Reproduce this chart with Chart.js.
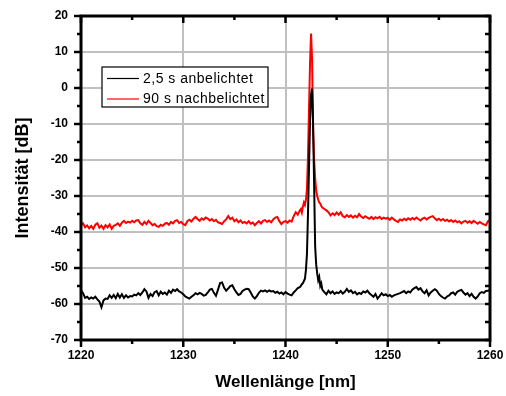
<!DOCTYPE html>
<html><head><meta charset="utf-8">
<script src="https://cdn.jsdelivr.net/npm/chart.js@4.4.1/dist/chart.umd.min.js"></script>
<style>html,body{margin:0;padding:0;background:#fff;}canvas{display:block;}</style>
</head><body>
<canvas id="c" width="506" height="396"></canvas>
<script>
const wavelengths = [
1220.0,1220.2,1220.4,1220.6,1220.8,1221.0,1221.2,1221.4,1221.6,1221.8,
1222.0,1222.2,1222.4,1222.6,1222.8,1223.0,1223.2,1223.4,1223.6,1223.8,
1224.0,1224.2,1224.4,1224.6,1224.8,1225.0,1225.2,1225.4,1225.6,1225.8,
1226.0,1226.2,1226.4,1226.6,1226.8,1227.0,1227.2,1227.4,1227.6,1227.8,
1228.0,1228.2,1228.4,1228.6,1228.8,1229.0,1229.2,1229.4,1229.6,1229.8,
1230.0,1230.2,1230.4,1230.6,1230.8,1231.0,1231.2,1231.4,1231.6,1231.8,
1232.0,1232.2,1232.4,1232.6,1232.8,1233.0,1233.2,1233.4,1233.6,1233.8,
1234.0,1234.2,1234.4,1234.6,1234.8,1235.0,1235.2,1235.4,1235.6,1235.8,
1236.0,1236.2,1236.4,1236.6,1236.8,1237.0,1237.2,1237.4,1237.6,1237.8,
1238.0,1238.2,1238.4,1238.6,1238.8,1239.0,1239.2,1239.4,1239.6,1239.8,
1240.0,1240.2,1240.4,1240.6,1240.8,1241.0,1241.2,1241.4,
1241.5,1241.6,1241.7,1241.8,1241.9,1242.0,1242.1,1242.2,1242.3,1242.4,
1242.5,1242.6,1242.7,1242.8,1242.9,1243.0,1243.1,1243.2,1243.3,1243.4,
1243.5,1243.6,
1243.8,
1244.0,1244.2,1244.4,1244.6,1244.8,1245.0,1245.2,1245.4,1245.6,1245.8,
1246.0,1246.2,1246.4,1246.6,1246.8,1247.0,1247.2,1247.4,1247.6,1247.8,
1248.0,1248.2,1248.4,1248.6,1248.8,1249.0,1249.2,1249.4,1249.6,1249.8,
1250.0,1250.2,1250.4,1250.6,1250.8,1251.0,1251.2,1251.4,1251.6,1251.8,
1252.0,1252.2,1252.4,1252.6,1252.8,1253.0,1253.2,1253.4,1253.6,1253.8,
1254.0,1254.2,1254.4,1254.6,1254.8,1255.0,1255.2,1255.4,1255.6,1255.8,
1256.0,1256.2,1256.4,1256.6,1256.8,1257.0,1257.2,1257.4,1257.6,1257.8,
1258.0,1258.2,1258.4,1258.6,1258.8,1259.0,1259.2,1259.4,1259.6,1259.8,
1260.0
];
const anbelichtet = [
-56.2,-57.0,-58.3,-58.0,-58.6,-58.2,-58.5,-58.0,-58.7,-59.3,
-60.9,-59.0,-58.5,-58.6,-57.6,-58.3,-57.5,-58.4,-57.2,-58.2,
-57.3,-58.3,-57.6,-58.2,-57.8,-57.9,-57.4,-57.6,-57.0,-57.5,
-56.8,-55.9,-56.5,-58.3,-57.2,-57.8,-56.7,-56.4,-57.6,-56.6,
-57.2,-56.8,-57.4,-56.3,-56.9,-56.0,-56.4,-55.9,-56.5,-56.8,
-57.3,-57.9,-58.2,-58.5,-58.0,-57.6,-57.0,-57.3,-56.9,-57.2,
-57.7,-57.5,-56.8,-56.0,-55.8,-56.9,-57.7,-56.0,-54.2,-54.0,
-55.5,-56.3,-55.7,-55.0,-54.8,-55.9,-56.8,-57.5,-57.2,-56.4,
-56.0,-55.8,-55.9,-56.8,-57.9,-58.5,-57.8,-56.9,-56.3,-56.5,
-56.2,-56.6,-56.2,-56.5,-56.4,-56.9,-56.6,-57.1,-56.8,-57.3,
-56.7,-57.1,-57.4,-57.6,-56.8,-56.2,-55.6,-55.3,
-55.0,-54.5,-54.2,-53.6,-53.0,-50.5,-46.0,-35.0,-22.0,-9.0,
-2.0,-0.2,-10.0,-27.0,-44.0,-49.0,-51.5,-53.4,-52.5,-55.0,
-54.3,-56.0,
-56.7,
-57.3,-56.3,-57.0,-56.5,-57.2,-56.8,-57.0,-56.4,-57.1,-56.6,
-55.8,-56.6,-56.2,-57.0,-56.6,-57.3,-56.9,-57.2,-56.5,-56.8,
-56.3,-57.0,-57.5,-58.0,-57.2,-58.5,-57.8,-57.0,-57.6,-57.3,
-57.8,-57.5,-58.0,-57.6,-57.4,-57.2,-57.0,-56.7,-56.4,-57.0,
-56.5,-56.8,-56.0,-55.6,-55.3,-56.0,-55.6,-56.5,-57.0,-56.2,
-57.6,-56.8,-56.3,-55.9,-56.3,-57.2,-57.8,-58.2,-58.5,-57.9,
-57.6,-57.0,-56.8,-57.4,-56.6,-56.3,-56.1,-56.8,-57.4,-57.0,
-57.8,-57.2,-58.0,-58.5,-57.9,-57.0,-56.7,-56.9,-56.4,-56.3,
-56.2
];
const nachbelichtet = [
-38.1,-37.6,-38.7,-38.2,-39.0,-38.3,-39.1,-38.0,-37.6,-38.8,
-38.2,-39.1,-38.1,-38.7,-37.9,-39.1,-38.3,-38.0,-37.6,-38.3,
-37.4,-36.9,-37.5,-37.1,-37.4,-36.9,-37.3,-36.8,-36.7,-37.6,
-38.0,-37.2,-37.8,-36.9,-37.5,-38.1,-37.8,-38.4,-38.6,-38.0,
-38.3,-37.7,-37.5,-38.0,-37.2,-37.6,-36.9,-36.7,-37.5,-37.2,
-37.8,-38.1,-37.0,-36.6,-37.1,-36.3,-35.8,-36.4,-36.9,-36.2,
-36.6,-36.0,-36.3,-36.8,-36.4,-37.0,-36.6,-37.3,-37.5,-37.8,
-37.0,-36.5,-35.6,-36.4,-36.0,-37.0,-36.5,-37.3,-36.8,-37.5,
-37.2,-37.6,-37.0,-37.7,-37.4,-38.1,-37.5,-37.0,-37.6,-36.9,
-36.7,-37.2,-36.8,-37.3,-36.5,-36.0,-35.8,-37.0,-37.8,-37.2,
-37.0,-37.4,-36.8,-37.1,-35.6,-34.5,-35.2,-34.0,
-33.6,-34.6,-33.0,-31.8,-32.5,-31.0,-28.0,-19.0,-6.0,7.0,
15.1,8.0,-12.0,-20.0,-25.0,-28.5,-30.0,-31.0,-31.8,-32.1,
-32.8,-33.2,
-33.6,
-34.0,-34.5,-35.4,-34.8,-35.3,-34.6,-35.2,-34.5,-35.6,-35.9,
-35.3,-35.8,-35.4,-36.0,-35.5,-35.9,-35.0,-35.7,-36.1,-35.6,
-36.0,-36.3,-35.8,-36.4,-35.9,-36.2,-35.8,-36.4,-36.0,-36.3,
-36.1,-36.6,-36.0,-36.5,-36.9,-37.2,-36.5,-36.8,-36.3,-36.7,
-36.2,-36.6,-36.1,-36.5,-36.0,-36.4,-36.8,-36.3,-36.0,-36.5,
-36.1,-35.8,-35.6,-36.2,-36.7,-36.3,-36.8,-36.4,-36.9,-36.6,
-37.1,-36.7,-37.2,-36.8,-37.3,-37.0,-37.6,-37.1,-36.9,-37.4,
-37.0,-37.5,-36.9,-37.3,-37.7,-37.2,-37.6,-37.9,-38.1,-37.0,
-36.7
];
const seriesLabels = ['2,5 s anbelichtet', '90 s nachbelichtet'];
const xTickValues = [1220, 1230, 1240, 1250, 1260];
const yTickValues = [20, 10, 0, -10, -20, -30, -40, -50, -60, -70];
const xTitle = 'Wellenlänge [nm]';
const yTitle = 'Intensität [dB]';

const FONT = "'Liberation Sans', Arial, sans-serif";

const framePlugin = {
  id: 'frame',
  afterDraw(chart) {
    const {ctx, chartArea: a, scales: {x, y}} = chart;
    ctx.save();
    ctx.strokeStyle = '#000';
    ctx.lineCap = 'butt';
    const seg = (x1, y1, x2, y2) => { ctx.beginPath(); ctx.moveTo(x1, y1); ctx.lineTo(x2, y2); ctx.stroke(); };
    ctx.lineWidth = 2.5;
    for (let v = x.min; v <= x.max + 1e-9; v += 5) {
      const px = x.getPixelForValue(v);
      const major = Math.round(v - x.min) % 10 === 0;
      const L = major ? 7 : 4;
      seg(px, a.bottom, px, a.bottom + L);
      seg(px, a.top, px, a.top + L);
    }
    for (let v = y.min; v <= y.max + 1e-9; v += 5) {
      const py = y.getPixelForValue(v);
      const major = Math.round(v - y.min) % 10 === 0;
      const L = major ? 7 : 4;
      seg(a.left - L, py, a.left, py);
      seg(a.right - 5, py, a.right, py);
    }
    ctx.lineWidth = 3;
    ctx.strokeRect(a.left, a.top, a.right - a.left, a.bottom - a.top);
    ctx.restore();
  }
};

const legendPlugin = {
  id: 'boxLegend',
  afterDraw(chart) {
    const {ctx, chartArea: a} = chart;
    const bx = a.left + 21, by = a.top + 51, bw = 166, bh = 40;
    ctx.save();
    ctx.fillStyle = '#fff';
    ctx.fillRect(bx, by, bw, bh);
    ctx.strokeStyle = '#000';
    ctx.lineWidth = 1.2;
    ctx.strokeRect(bx, by, bw, bh);
    ctx.font = '14px ' + FONT;
    if ('letterSpacing' in ctx) ctx.letterSpacing = '0.5px';
    ctx.textBaseline = 'middle';
    ctx.textAlign = 'left';
    chart.data.datasets.forEach((ds, i) => {
      const ly = by + 11.5 + i * 20.5;
      ctx.strokeStyle = ds.borderColor;
      ctx.lineWidth = 1.2;
      ctx.beginPath(); ctx.moveTo(bx + 5, ly); ctx.lineTo(bx + 37, ly); ctx.stroke();
      ctx.fillStyle = '#000';
      ctx.fillText(ds.label, bx + 41, ly + 0.5);
    });
    ctx.restore();
  }
};

const toPoints = vals => wavelengths.map((w, i) => ({x: w, y: vals[i]}));

new Chart(document.getElementById('c'), {
  type: 'line',
  data: {
    datasets: [
      {label: seriesLabels[0], data: toPoints(anbelichtet), borderColor: '#000000', borderWidth: 2, pointRadius: 0, tension: 0, fill: false},
      {label: seriesLabels[1], data: toPoints(nachbelichtet), borderColor: '#ff0000', borderWidth: 2, pointRadius: 0, tension: 0, fill: false}
    ]
  },
  options: {
    responsive: false,
    animation: false,
    devicePixelRatio: 1,
    layout: {padding: {left: 0, right: 16, top: 16, bottom: 0}},
    plugins: {legend: {display: false}, tooltip: {enabled: false}},
    scales: {
      x: {
        type: 'linear', min: 1220, max: 1260,
        afterBuildTicks: s => { s.ticks = xTickValues.map(v => ({value: v})); },
        afterFit: s => { s.height = 56; s.paddingLeft = 0; s.paddingRight = 0; },
        grid: {color: '#c0c0c0', lineWidth: 2, drawTicks: false},
        border: {display: false},
        ticks: {color: '#000', padding: 8, maxRotation: 0, callback: v => String(v), font: {family: FONT, size: 12, weight: 'bold'}},
        title: {display: true, text: xTitle, color: '#000', padding: {top: 0, bottom: 3}, font: {family: FONT, size: 17, weight: 'bold'}}
      },
      y: {
        type: 'linear', min: -70, max: 20,
        afterBuildTicks: s => { s.ticks = yTickValues.map(v => ({value: v})); },
        afterFit: s => { s.width = 81; s.paddingTop = 0; s.paddingBottom = 0; },
        grid: {color: '#c0c0c0', lineWidth: 2, drawTicks: false},
        border: {display: false},
        ticks: {color: '#000', padding: 13, callback: v => String(v), font: {family: FONT, size: 12, weight: 'bold'}},
        title: {display: true, text: yTitle, color: '#000', padding: {top: 12, bottom: 0}, font: {family: FONT, size: 18, weight: 'bold'}}
      }
    }
  },
  plugins: [framePlugin, legendPlugin]
});
</script>
</body></html>
